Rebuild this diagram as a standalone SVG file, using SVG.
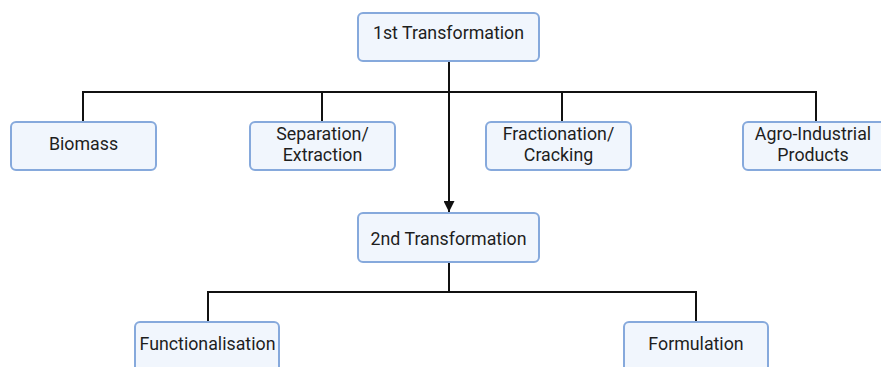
<svg xmlns="http://www.w3.org/2000/svg" width="881" height="367" viewBox="0 0 881 367">
<style>
.box{fill:#f1f6fd;stroke:#86a9dc;stroke-width:2}
.t{font-family:Roboto,"Liberation Sans",sans-serif;font-size:17.8px;fill:#1e1e1e;text-anchor:middle}
.c{fill:none;stroke:#111;stroke-width:2}
</style>
<defs>
<marker id="ah" viewBox="0 0 10 10" refX="10" refY="5" markerWidth="5.5" markerHeight="5.5" orient="auto" markerUnits="strokeWidth">
<path d="M0,0 L10,5 L0,10 z" fill="#111"/>
</marker>
</defs>
<rect width="881" height="367" fill="#fff"/>
<g id="connectors">
<path class="c" d="M449,61 V92"/>
<path class="c" d="M83,122 V92 H816 V122"/>
<path class="c" d="M322,92 V122"/>
<path class="c" d="M562,92 V122"/>
<path class="c" d="M449,92 V212" marker-end="url(#ah)"/>
<path class="c" d="M449,262 V292"/>
<path class="c" d="M208,322 V292 H696 V322"/>
</g>
<g id="n1"><rect class="box" x="358" y="13" width="181" height="48" rx="5"/><text class="t" x="448.5" y="39">1st Transformation</text></g>
<g id="n2"><rect class="box" x="11" y="122" width="145" height="48" rx="5"/><text class="t" x="83.5" y="150">Biomass</text></g>
<g id="n3"><rect class="box" x="250" y="122" width="145" height="48" rx="5"/><text class="t" x="322.5" y="140">Separation/</text><text class="t" x="322.5" y="161">Extraction</text></g>
<g id="n4"><rect class="box" x="486" y="122" width="145" height="48" rx="5"/><text class="t" x="558.5" y="140">Fractionation/</text><text class="t" x="558.5" y="161">Cracking</text></g>
<g id="n5"><rect class="box" x="743" y="122" width="145" height="48" rx="5"/><text class="t" x="813" y="140">Agro-Industrial</text><text class="t" x="813" y="161">Products</text></g>
<g id="n6"><rect class="box" x="358" y="213" width="181" height="49" rx="5"/><text class="t" x="448.5" y="245">2nd Transformation</text></g>
<g id="n7"><rect class="box" x="135" y="322" width="144" height="50" rx="5"/><text class="t" x="207.5" y="350">Functionalisation</text></g>
<g id="n8"><rect class="box" x="624" y="322" width="144" height="50" rx="5"/><text class="t" x="696" y="350">Formulation</text></g>
</svg>
